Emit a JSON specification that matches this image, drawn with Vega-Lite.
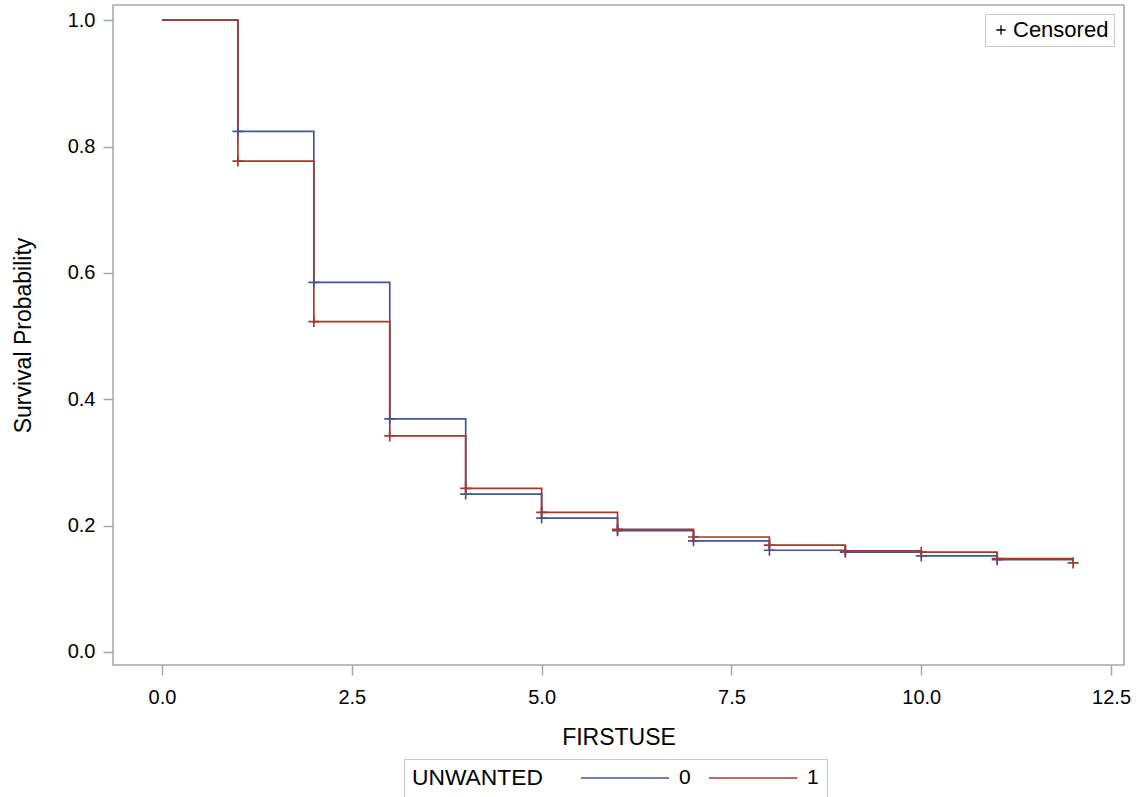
{
  "$schema": "https://vega.github.io/schema/vega-lite/v6.json",
  "autosize": {"type": "none"},
  "padding": {"left": 113, "top": 5, "right": 20, "bottom": 132},
  "width": 1011,
  "height": 660,
  "background": "white",
  "config": {
    "font": "Liberation Sans",
    "view": {"stroke": "#a6a6a6", "strokeWidth": 1.5},
    "axis": {
      "domain": false,
      "grid": false,
      "tickColor": "#a6a6a6",
      "tickWidth": 1.5,
      "tickSize": 10,
      "labelFont": "Liberation Sans",
      "labelFontSize": 20,
      "labelColor": "#000000",
      "titleFont": "Liberation Sans",
      "titleFontSize": 23,
      "titleFontWeight": "normal",
      "titleColor": "#000000"
    }
  },
  "datasets": {
    "curve": [
      {"FIRSTUSE": 0, "UNWANTED": "0", "surv": 1.0},
      {"FIRSTUSE": 1, "UNWANTED": "0", "surv": 0.824},
      {"FIRSTUSE": 2, "UNWANTED": "0", "surv": 0.585},
      {"FIRSTUSE": 3, "UNWANTED": "0", "surv": 0.369},
      {"FIRSTUSE": 4, "UNWANTED": "0", "surv": 0.250},
      {"FIRSTUSE": 5, "UNWANTED": "0", "surv": 0.212},
      {"FIRSTUSE": 6, "UNWANTED": "0", "surv": 0.192},
      {"FIRSTUSE": 7, "UNWANTED": "0", "surv": 0.176},
      {"FIRSTUSE": 8, "UNWANTED": "0", "surv": 0.161},
      {"FIRSTUSE": 9, "UNWANTED": "0", "surv": 0.158},
      {"FIRSTUSE": 10, "UNWANTED": "0", "surv": 0.152},
      {"FIRSTUSE": 11, "UNWANTED": "0", "surv": 0.146},
      {"FIRSTUSE": 12, "UNWANTED": "0", "surv": 0.146},
      {"FIRSTUSE": 0, "UNWANTED": "1", "surv": 1.0},
      {"FIRSTUSE": 1, "UNWANTED": "1", "surv": 0.777},
      {"FIRSTUSE": 2, "UNWANTED": "1", "surv": 0.523},
      {"FIRSTUSE": 3, "UNWANTED": "1", "surv": 0.342},
      {"FIRSTUSE": 4, "UNWANTED": "1", "surv": 0.259},
      {"FIRSTUSE": 5, "UNWANTED": "1", "surv": 0.221},
      {"FIRSTUSE": 6, "UNWANTED": "1", "surv": 0.194},
      {"FIRSTUSE": 7, "UNWANTED": "1", "surv": 0.182},
      {"FIRSTUSE": 8, "UNWANTED": "1", "surv": 0.169},
      {"FIRSTUSE": 9, "UNWANTED": "1", "surv": 0.160},
      {"FIRSTUSE": 10, "UNWANTED": "1", "surv": 0.158},
      {"FIRSTUSE": 11, "UNWANTED": "1", "surv": 0.148},
      {"FIRSTUSE": 12, "UNWANTED": "1", "surv": 0.141}
    ],
    "censored": [
      {"FIRSTUSE": 1, "UNWANTED": "0", "surv": 0.824, "status": "Censored"},
      {"FIRSTUSE": 2, "UNWANTED": "0", "surv": 0.585, "status": "Censored"},
      {"FIRSTUSE": 3, "UNWANTED": "0", "surv": 0.369, "status": "Censored"},
      {"FIRSTUSE": 4, "UNWANTED": "0", "surv": 0.250, "status": "Censored"},
      {"FIRSTUSE": 5, "UNWANTED": "0", "surv": 0.212, "status": "Censored"},
      {"FIRSTUSE": 6, "UNWANTED": "0", "surv": 0.192, "status": "Censored"},
      {"FIRSTUSE": 7, "UNWANTED": "0", "surv": 0.176, "status": "Censored"},
      {"FIRSTUSE": 8, "UNWANTED": "0", "surv": 0.161, "status": "Censored"},
      {"FIRSTUSE": 9, "UNWANTED": "0", "surv": 0.158, "status": "Censored"},
      {"FIRSTUSE": 10, "UNWANTED": "0", "surv": 0.152, "status": "Censored"},
      {"FIRSTUSE": 11, "UNWANTED": "0", "surv": 0.146, "status": "Censored"},
      {"FIRSTUSE": 1, "UNWANTED": "1", "surv": 0.777, "status": "Censored"},
      {"FIRSTUSE": 2, "UNWANTED": "1", "surv": 0.523, "status": "Censored"},
      {"FIRSTUSE": 3, "UNWANTED": "1", "surv": 0.342, "status": "Censored"},
      {"FIRSTUSE": 4, "UNWANTED": "1", "surv": 0.259, "status": "Censored"},
      {"FIRSTUSE": 5, "UNWANTED": "1", "surv": 0.221, "status": "Censored"},
      {"FIRSTUSE": 6, "UNWANTED": "1", "surv": 0.194, "status": "Censored"},
      {"FIRSTUSE": 7, "UNWANTED": "1", "surv": 0.182, "status": "Censored"},
      {"FIRSTUSE": 8, "UNWANTED": "1", "surv": 0.169, "status": "Censored"},
      {"FIRSTUSE": 9, "UNWANTED": "1", "surv": 0.160, "status": "Censored"},
      {"FIRSTUSE": 10, "UNWANTED": "1", "surv": 0.158, "status": "Censored"},
      {"FIRSTUSE": 11, "UNWANTED": "1", "surv": 0.148, "status": "Censored"},
      {"FIRSTUSE": 12, "UNWANTED": "1", "surv": 0.141, "status": "Censored"}
    ]
  },
  "encoding": {
    "x": {
      "field": "FIRSTUSE",
      "type": "quantitative",
      "title": "FIRSTUSE",
      "scale": {"domain": [-0.645, 12.67], "nice": false, "zero": false},
      "axis": {"values": [0, 2.5, 5, 7.5, 10, 12.5], "format": ".1f", "labelPadding": 12, "titlePadding": 19}
    },
    "y": {
      "field": "surv",
      "type": "quantitative",
      "title": "Survival Probability",
      "scale": {"domain": [-0.0206, 1.024], "nice": false, "zero": false},
      "axis": {"values": [0, 0.2, 0.4, 0.6, 0.8, 1.0], "format": ".1f", "labelPadding": 8, "titlePadding": 32}
    }
  },
  "layer": [
    {
      "data": {"name": "curve"},
      "mark": {"type": "line", "interpolate": "step-after", "strokeWidth": 1.7},
      "encoding": {
        "color": {
          "field": "UNWANTED",
          "type": "nominal",
          "scale": {"domain": ["0", "1"], "range": ["#445694", "#A23A2E"]},
          "legend": {
            "orient": "none",
            "legendX": 291,
            "legendY": 754,
            "direction": "horizontal",
            "title": "UNWANTED",
            "titleOrient": "left",
            "titleFontSize": 22.8,
            "titleFontWeight": "normal",
            "titleColor": "#000000",
            "titlePadding": 71,
            "labelFontSize": 21,
            "labelColor": "#000000",
            "labelOffset": 43,
            "columnPadding": 14,
            "symbolType": "M-4.4,0H4.4",
            "symbolSize": 400,
            "symbolStrokeWidth": 1.7,
            "padding": 8,
            "strokeColor": "#c8c8c8",
            "fillColor": "white"
          }
        },
        "order": {"field": "FIRSTUSE", "type": "quantitative"}
      }
    },
    {
      "data": {"name": "censored"},
      "mark": {"type": "point", "filled": false, "size": 121, "strokeWidth": 1.7, "opacity": 1},
      "encoding": {
        "stroke": {
          "field": "UNWANTED",
          "type": "nominal",
          "scale": {"domain": ["0", "1"], "range": ["#445694", "#A23A2E"]},
          "legend": null
        },
        "shape": {
          "field": "status",
          "type": "nominal",
          "scale": {"domain": ["Censored"], "range": ["M-1,0H1M0,-1V1"]},
          "legend": {
            "orient": "none",
            "legendX": 872,
            "legendY": 9,
            "title": null,
            "labelFontSize": 22,
            "labelColor": "#000000",
            "labelOffset": 1,
            "symbolSize": 90,
            "symbolStrokeColor": "#000000",
            "symbolStrokeWidth": 1.3,
            "symbolFillColor": "transparent",
            "padding": 5,
            "strokeColor": "#c8c8c8",
            "fillColor": "white"
          }
        }
      }
    }
  ]
}
